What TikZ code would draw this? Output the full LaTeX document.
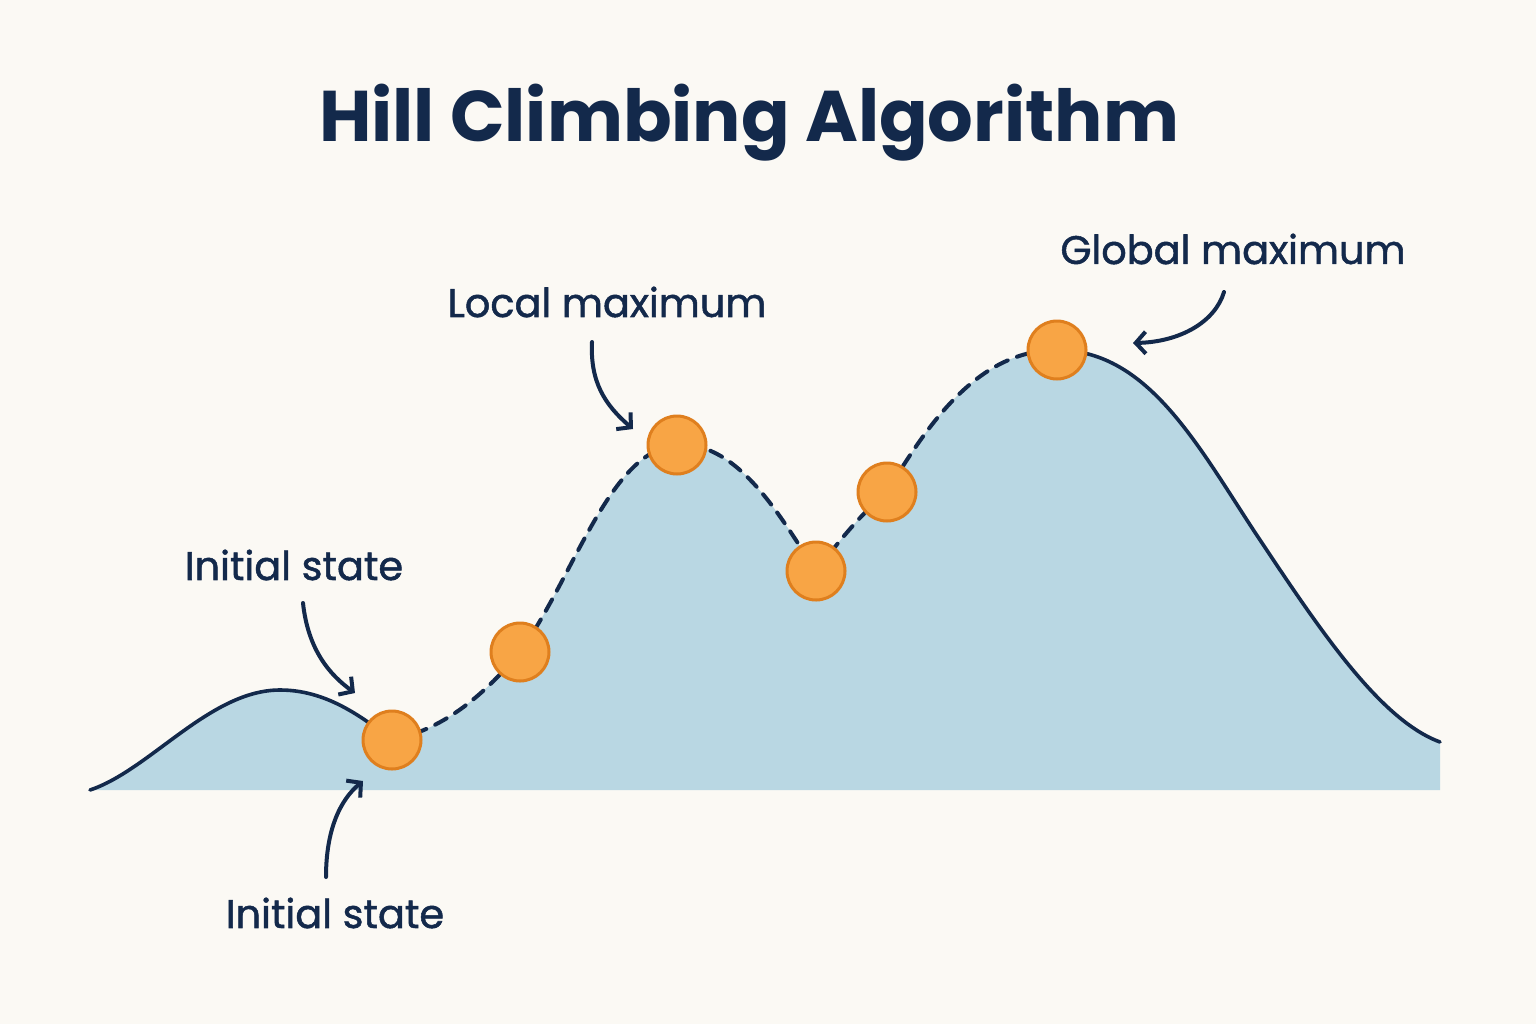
\documentclass[tikz,border=0pt]{standalone}
\usepackage{fontspec}
\setmainfont{Poppins}
\newfontface\labelface{Poppins}[FakeBold=1.3]
\usetikzlibrary{arrows.meta}
\definecolor{paper}{HTML}{FBF9F4}
\definecolor{navy}{HTML}{13294B}
\definecolor{hillblue}{HTML}{B9D7E3}
\definecolor{ballfill}{HTML}{F8A545}
\definecolor{ballrim}{HTML}{DF7F1E}
\tikzset{
  curveline/.style={navy, line width=3.6bp, line cap=round},
  walk/.style={navy, line width=4bp, line cap=round, dash pattern=on 13bp off 10bp},
  ball/.style={circle, fill=ballfill, draw=ballrim, line width=3bp, minimum size=58bp, inner sep=0pt},
  lbl/.style={text=navy, font=\labelface\fontsize{40}{48}\selectfont, inner sep=0pt},
  pointer/.style={navy, line width=4bp, line cap=round, -{Straight Barb[length=10bp, width=22bp, line width=4bp]}}
}
\begin{document}
\begin{tikzpicture}[x=1bp, y=-1bp]
\useasboundingbox[fill=paper] (0,0) rectangle (1536,1024);

% search positions on the landscape
\coordinate (p1) at (392,740);
\coordinate (p2) at (520,652);
\coordinate (p3) at (677,445);
\coordinate (p4) at (816,571);
\coordinate (p5) at (887,492);
\coordinate (p6) at (1057,350);

% landscape fill
\fill[hillblue] (90,790)
  .. controls (150,770) and (210,690) .. (280,690)
  .. controls (325,690) and (360,715) .. (p1)
  .. controls (440,730) and (480,700) .. (p2)
  .. controls (575,575) and (610,450) .. (p3)
  .. controls (740,440) and (785,525) .. (p4)
  .. controls (840,540) and (860,515) .. (p5)
  .. controls (930,420) and (980,350) .. (p6)
  .. controls (1150,350) and (1200,450) .. (1260,540)
  .. controls (1320,630) and (1380,720) .. (1440,742)
  -- (1440,790) -- cycle;

% solid parts of the landscape outline
\draw[curveline] (90,790)
  .. controls (150,770) and (210,690) .. (280,690)
  .. controls (325,690) and (360,715) .. (p1);
\draw[curveline] (p6)
  .. controls (1150,350) and (1200,450) .. (1260,540)
  .. controls (1320,630) and (1380,720) .. (1440,742);

% dashed search path
\draw[walk] (p1)
  .. controls (440,730) and (480,700) .. (p2)
  .. controls (575,575) and (610,450) .. (p3)
  .. controls (740,440) and (785,525) .. (p4)
  .. controls (840,540) and (860,515) .. (p5)
  .. controls (930,420) and (980,350) .. (p6);

% balls
\node[ball] (s1) at (p1) {};
\node[ball] (s2) at (p2) {};
\node[ball] (s3) at (p3) {};
\node[ball] (s4) at (p4) {};
\node[ball] (s5) at (p5) {};
\node[ball] (s6) at (p6) {};

% title
\node[text=navy, font=\fontsize{72}{86}\selectfont\bfseries] (title) at (749,123) {Hill Climbing Algorithm};

% labels
\node[lbl] (init1) at (294,565) {Initial state};
\node[lbl] (init2) at (335,913) {Initial state};
\node[lbl] (local) at (607,302) {Local maximum};
\node[lbl] (global) at (1233,249) {Global maximum};

% arrow tips
\coordinate (t1) at (355,693);
\coordinate (t2) at (363,781);
\coordinate (t3) at (633,429);
\coordinate (t4) at (1133,343);

\draw[pointer] (303,603) .. controls (308,650) and (330,675) .. (t1);
\draw[pointer] (326,877) .. controls (326,830) and (340,800) .. (t2);
\draw[pointer] (592,342) .. controls (590,382) and (605,405) .. (t3);
\draw[pointer] (1224,292) .. controls (1215,322) and (1180,342) .. (t4);
\end{tikzpicture}
\end{document}
